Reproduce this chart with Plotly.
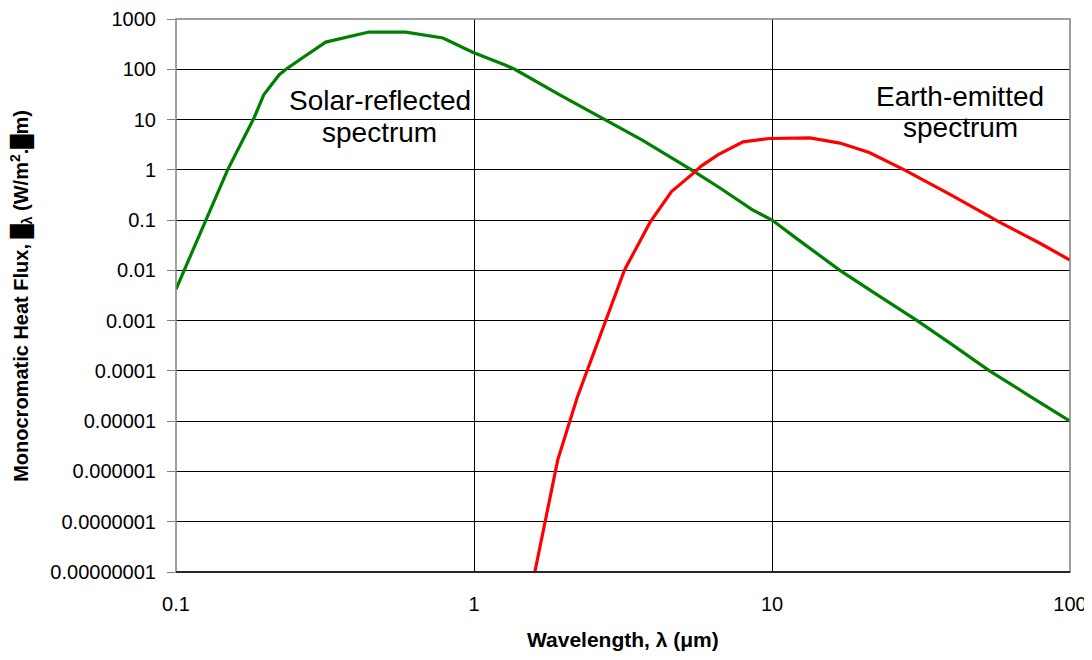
import plotly.graph_objects as go

# Solar-reflected spectrum
solar_wavelength = [0.1, 0.126, 0.149, 0.183, 0.197, 0.222, 0.234, 0.26, 0.318, 0.444, 0.59, 0.787,
                    0.99, 1.29, 1.37, 1.94, 2.75, 3.67, 5.37, 6.67, 8.6, 10, 12.3, 16.9, 22.5,
                    30.7, 40, 53.7, 73, 100]
solar_flux = [0.0042, 0.1, 1.0, 11, 31, 78, 100, 155, 347, 550, 550, 418,
              219, 117, 100, 31, 10, 3.9, 1.0, 0.44, 0.16, 0.1, 0.04, 0.01, 0.0033,
              0.001, 3.4e-4, 1e-4, 3.2e-5, 1e-5]

# Earth-emitted spectrum
earth_wavelength = [1.6, 1.73, 1.91, 2.22, 2.62, 3.2, 3.9, 4.6, 5.5, 5.8, 6.6, 8.0, 9.8, 12.3, 13.4,
                    16.9, 21.2, 27.8, 39.7, 58, 79, 100]
earth_flux = [1e-8, 1e-7, 1.7e-6, 2.95e-5, 4.2e-4, 0.0102, 0.091, 0.37, 0.9, 1.2, 2.0, 3.6, 4.2, 4.3, 4.3,
              3.4, 2.2, 1.0, 0.32, 0.091, 0.035, 0.016]

x_ticks = [0.1, 1, 10, 100]
x_tick_labels = ["0.1", "1", "10", "100"]
y_ticks = [1000, 100, 10, 1, 0.1, 0.01, 0.001, 0.0001, 0.00001, 0.000001, 0.0000001, 0.00000001]
y_tick_labels = ["1000", "100", "10", "1", "0.1", "0.01", "0.001", "0.0001", "0.00001",
                 "0.000001", "0.0000001", "0.00000001"]

x_title = "<b>Wavelength, λ (μm)</b>"
y_title = "<b>Monocromatic Heat Flux, █<sub>λ</sub> (W/m<sup>2</sup>.█m)</b>"

FONT = "Liberation Sans, Arial, sans-serif"

fig = go.Figure()
fig.add_trace(go.Scatter(x=solar_wavelength, y=solar_flux, mode="lines",
                         line=dict(color="#008000", width=3.2), showlegend=False))
fig.add_trace(go.Scatter(x=earth_wavelength, y=earth_flux, mode="lines",
                         line=dict(color="#ff0000", width=3.2), showlegend=False))

label_font = dict(family=FONT, size=28, color="black")
for tx, px, py in [("Solar-reflected", 0.228, 0.852), ("spectrum", 0.228, 0.794),
                   ("Earth-emitted", 0.877, 0.859), ("spectrum", 0.877, 0.803)]:
    fig.add_annotation(x=px, y=py, xref="paper", yref="paper", showarrow=False,
                       xanchor="center", yanchor="middle", text=tx, font=label_font)

# axis titles
fig.add_annotation(x=0.5, y=-0.122, xref="paper", yref="paper", showarrow=False,
                   xanchor="center", yanchor="middle",
                   text=x_title, font=dict(family=FONT, size=21, color="black"))
fig.add_annotation(x=-0.173, y=0.5, xref="paper", yref="paper", showarrow=False,
                   xanchor="center", yanchor="middle", textangle=-90,
                   text=y_title, font=dict(family=FONT, size=20, color="black"))

# plot border (gray) and black bottom axis line
fig.add_shape(type="rect", xref="paper", yref="paper", x0=0, y0=0, x1=1, y1=1,
              line=dict(color="#808080", width=1.5), layer="above")
fig.add_shape(type="line", xref="paper", yref="paper", x0=0, y0=0, x1=1, y1=0,
              line=dict(color="black", width=1.5), layer="above")

fig.update_xaxes(type="log", range=[-1, 2], tickvals=x_ticks, ticktext=x_tick_labels,
                 showgrid=True, gridcolor="black", gridwidth=1,
                 showline=False, ticks="", ticklabelstandoff=18, automargin=False,
                 tickfont=dict(family=FONT, size=20, color="black"),
                 zeroline=False)
fig.update_yaxes(type="log", range=[-8, 3], tickvals=y_ticks, ticktext=y_tick_labels,
                 showgrid=True, gridcolor="black", gridwidth=1,
                 showline=False, ticks="outside", ticklen=8, tickcolor="#808080",
                 ticklabelstandoff=7, automargin=False,
                 tickfont=dict(family=FONT, size=20, color="black"),
                 zeroline=False)

# page body has an 8px margin, so the figure is offset by 8px
fig.update_layout(width=1084, height=652, margin=dict(l=168, r=22, t=11, b=88),
                  plot_bgcolor="white", paper_bgcolor="white")

fig.write_html("out.html")
